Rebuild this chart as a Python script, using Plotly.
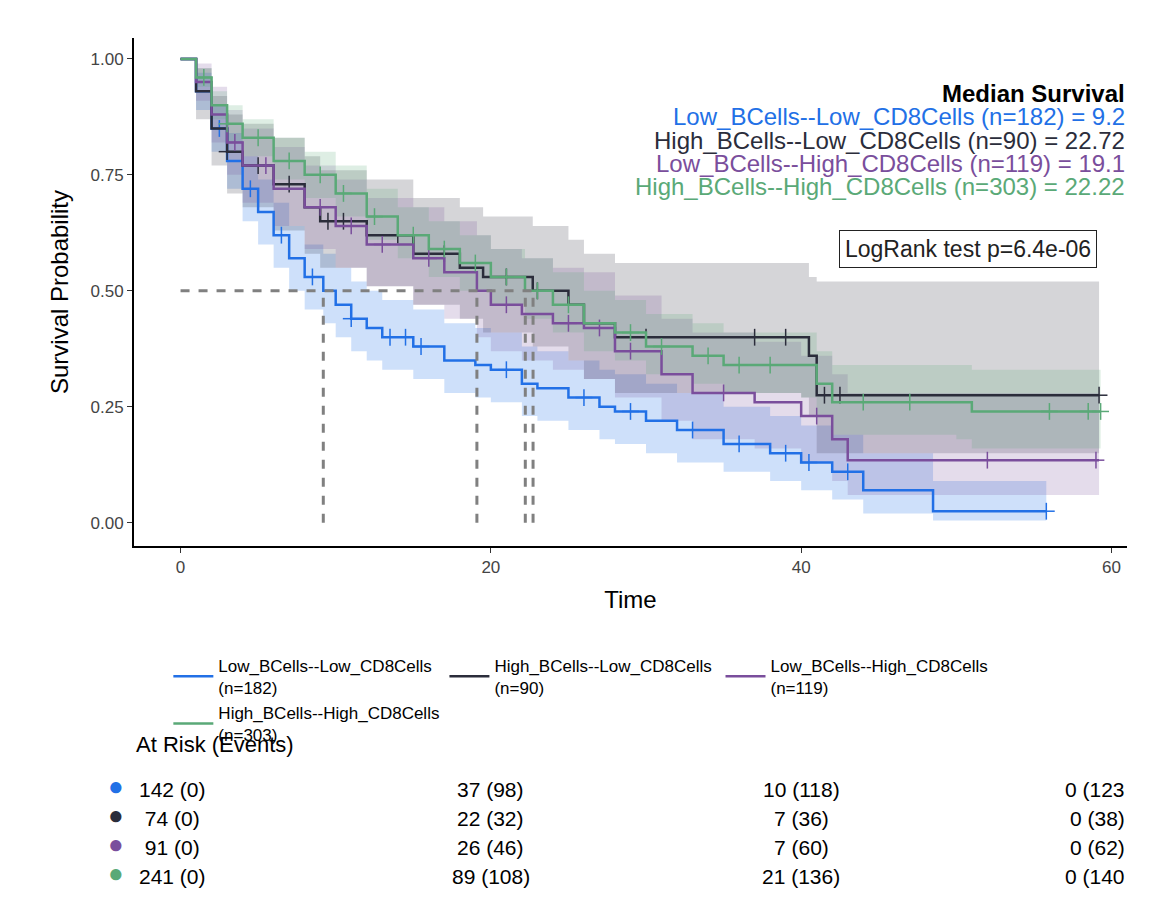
import plotly.graph_objects as go

groups = ["Low_BCells--Low_CD8Cells", "High_BCells--Low_CD8Cells",
          "Low_BCells--High_CD8Cells", "High_BCells--High_CD8Cells"]
n_sizes = [182, 90, 119, 303]
medians = [9.2, 22.72, 19.1, 22.22]
colors = ["#2270e6", "#2b2d3b", "#7a4e9c", "#5aa977"]
fills = ["rgba(34,112,230,0.22)", "rgba(43,45,59,0.2)", "rgba(122,78,156,0.2)", "rgba(90,169,119,0.2)"]

times = [
    [0, 1, 2, 3, 4, 5, 6, 7, 8, 9.2, 10, 11, 12, 13, 15, 17, 19, 20, 22, 23, 25, 27, 28, 30, 32, 35, 38, 40, 42, 44, 48.5, 55.8],
    [0, 1, 2, 3, 4, 6, 8, 9, 12, 15, 18, 19.5, 22.7, 25, 26, 28, 40, 40.5, 41, 59.2],
    [0, 1, 2, 3, 4, 6, 8, 10, 12, 15, 17, 19.1, 20, 22, 24, 26, 28, 31, 33, 37, 40, 42, 43, 59.2],
    [0, 1, 2, 3, 4, 6, 8, 10, 12, 14, 16, 18, 20, 22.2, 24, 26, 28, 30, 33, 35, 40, 41, 42, 50, 51, 59.3],
]
surv = [
    [1.0, 0.93, 0.85, 0.78, 0.72, 0.67, 0.62, 0.57, 0.53, 0.50, 0.47, 0.44, 0.42, 0.40, 0.38, 0.35, 0.34, 0.33, 0.30, 0.29, 0.27, 0.25, 0.24, 0.22, 0.20, 0.17, 0.15, 0.13, 0.11, 0.07, 0.025, 0.025],
    [1.0, 0.93, 0.85, 0.80, 0.77, 0.73, 0.68, 0.65, 0.62, 0.58, 0.55, 0.53, 0.50, 0.47, 0.43, 0.40, 0.40, 0.36, 0.275, 0.275],
    [1.0, 0.95, 0.88, 0.82, 0.77, 0.72, 0.68, 0.64, 0.60, 0.57, 0.54, 0.50, 0.47, 0.45, 0.43, 0.42, 0.37, 0.32, 0.28, 0.26, 0.23, 0.18, 0.135, 0.135],
    [1.0, 0.96, 0.90, 0.86, 0.83, 0.78, 0.75, 0.71, 0.66, 0.62, 0.59, 0.56, 0.53, 0.50, 0.47, 0.43, 0.41, 0.38, 0.36, 0.34, 0.34, 0.30, 0.26, 0.26, 0.24, 0.24],
]
lower = [
    [1.0, 0.89, 0.80, 0.72, 0.65, 0.60, 0.55, 0.50, 0.46, 0.43, 0.40, 0.37, 0.35, 0.33, 0.31, 0.28, 0.27, 0.26, 0.23, 0.22, 0.20, 0.18, 0.17, 0.15, 0.13, 0.11, 0.09, 0.07, 0.05, 0.02, 0.005, 0.005],
    [1.0, 0.87, 0.77, 0.71, 0.68, 0.63, 0.58, 0.55, 0.51, 0.47, 0.44, 0.41, 0.38, 0.35, 0.31, 0.28, 0.27, 0.23, 0.15, 0.15],
    [1.0, 0.91, 0.82, 0.75, 0.69, 0.64, 0.59, 0.55, 0.51, 0.47, 0.44, 0.40, 0.37, 0.35, 0.33, 0.31, 0.27, 0.22, 0.18, 0.16, 0.13, 0.09, 0.06, 0.06],
    [1.0, 0.94, 0.87, 0.82, 0.79, 0.74, 0.70, 0.66, 0.61, 0.57, 0.53, 0.50, 0.47, 0.44, 0.41, 0.37, 0.35, 0.32, 0.30, 0.28, 0.27, 0.23, 0.19, 0.18, 0.16, 0.16],
]
upper = [
    [1.0, 0.97, 0.90, 0.84, 0.79, 0.74, 0.69, 0.64, 0.60, 0.58, 0.55, 0.52, 0.50, 0.48, 0.46, 0.43, 0.42, 0.41, 0.38, 0.37, 0.35, 0.33, 0.32, 0.30, 0.28, 0.25, 0.23, 0.21, 0.19, 0.15, 0.09, 0.09],
    [1.0, 0.98, 0.92, 0.88, 0.86, 0.83, 0.79, 0.76, 0.74, 0.70, 0.68, 0.66, 0.64, 0.61, 0.58, 0.56, 0.56, 0.53, 0.52, 0.52],
    [1.0, 0.99, 0.94, 0.89, 0.85, 0.81, 0.77, 0.74, 0.70, 0.68, 0.65, 0.62, 0.59, 0.57, 0.55, 0.54, 0.49, 0.44, 0.41, 0.39, 0.36, 0.32, 0.28, 0.28],
    [1.0, 0.98, 0.93, 0.90, 0.87, 0.83, 0.80, 0.77, 0.72, 0.68, 0.65, 0.62, 0.59, 0.57, 0.54, 0.50, 0.48, 0.45, 0.43, 0.41, 0.41, 0.37, 0.34, 0.34, 0.33, 0.33],
]
censor = [
    [2.5, 4.5, 6.5, 8.5, 11, 13.5, 14.5, 15.5, 21, 26, 29, 33, 36, 39, 40.5, 43, 55.8],
    [3, 5, 7, 9.5, 10.5, 14, 17, 21, 23, 30, 37, 39, 41.5, 42.5, 59.2],
    [3.5, 5.5, 9, 11, 13, 16, 21, 25, 27, 29, 35, 41, 52, 59],
    [1.5, 3, 5, 7, 9, 10.5, 12.5, 15, 17, 19, 21, 23, 25, 29, 31, 34, 36, 38, 44, 47, 56, 58.5, 59.3],
]
risk_times = [0, 20, 40, 60]
risk_labels = [
    ["142 (0)", "37 (98)", "10 (118)", "0 (123"],
    [" 74 (0)", "22 (32)", "7 (36)", "0 (38)"],
    [" 91 (0)", "26 (46)", "7 (60)", "0 (62)"],
    ["241 (0)", "89 (108)", "21 (136)", "0 (140"],
]


def step_at(ts, ss, t):
    v = ss[0]
    for ti, si in zip(ts, ss):
        if ti <= t:
            v = si
    return v


fig = go.Figure()
for i, g in enumerate(groups):
    fig.add_trace(go.Scatter(x=times[i], y=upper[i], mode="lines", line=dict(width=0, shape="hv"),
                             showlegend=False, hoverinfo="skip"))
    fig.add_trace(go.Scatter(x=times[i], y=lower[i], mode="lines", line=dict(width=0, shape="hv"),
                             fill="tonexty", fillcolor=fills[i], showlegend=False, hoverinfo="skip"))
for i, g in enumerate(groups):
    fig.add_trace(go.Scatter(x=times[i], y=surv[i], mode="lines", line=dict(color=colors[i], width=2.5, shape="hv"),
                             name=f"{g}<br>(n={n_sizes[i]})"))
    ys = [step_at(times[i], surv[i], t) for t in censor[i]]
    for sym in ["line-ns", "line-ew"]:
        fig.add_trace(go.Scatter(x=censor[i], y=ys, mode="markers",
                                 marker=dict(symbol=sym, size=12, line=dict(color=colors[i], width=1.5)),
                                 showlegend=False, hoverinfo="skip"))

dash = dict(color="grey", width=3, dash="dash")
fig.add_shape(type="line", x0=0, x1=max(medians), y0=0.5, y1=0.5, line=dash)
for m in medians:
    fig.add_shape(type="line", x0=m, x1=m, y0=0, y1=0.5, line=dash)

ann = [dict(text="<b>Median Survival</b>", y=0.89, color="black")]
for i, g in enumerate(groups):
    ann.append(dict(text=f"{g} (n={n_sizes[i]}) = {medians[i]}", y=0.845 - 0.046 * i, color=colors[i]))
for a in ann:
    fig.add_annotation(text=a["text"], x=1.0, y=a["y"], xref="paper", yref="paper", xanchor="right",
                       yanchor="middle", showarrow=False, font=dict(size=24, color=a["color"]))
fig.add_annotation(text="LogRank test p=6.4e-06", x=0.97, y=0.585, xref="paper", yref="paper", xanchor="right",
                   showarrow=False, font=dict(size=23, color="#222"), bordercolor="#222", borderwidth=1,
                   borderpad=5, bgcolor="white")

# risk table
fig.add_annotation(text="At Risk (Events)", x=0.0, y=-0.42, xref="paper", yref="paper", xanchor="left",
                   showarrow=False, font=dict(size=22, color="black"))
for r, row in enumerate(risk_labels):
    yy = -0.506 - 0.057 * r
    fig.add_annotation(text="●", x=-0.028, y=yy, xref="paper", yref="paper", showarrow=False,
                       font=dict(size=26, color=colors[r]))
    for c, lab in enumerate(row):
        if c == 0:
            fig.add_annotation(text=lab, x=0.003, y=yy, xref="paper", yref="paper", xanchor="left",
                               showarrow=False, font=dict(size=21, color="black"))
        elif c == 3:
            fig.add_annotation(text=lab, x=1.0, y=yy, xref="paper", yref="paper", xanchor="right",
                               showarrow=False, font=dict(size=21, color="black"))
        else:
            fig.add_annotation(text=lab, x=risk_times[c], y=yy, xref="x", yref="paper", xanchor="center",
                               showarrow=False, font=dict(size=21, color="black"))

fig.update_layout(
    width=1152, height=921, plot_bgcolor="white", paper_bgcolor="white",
    margin=dict(l=126, r=33, t=30, b=383),
    font=dict(family="Liberation Sans", color="black"),
    xaxis=dict(title=dict(text="Time", font=dict(size=24)), range=[-3, 61], tickvals=[0, 20, 40, 60],
               showline=True, linecolor="black", linewidth=2, ticks="outside", tickcolor="#333",
               tickfont=dict(size=17, color="#444"), showgrid=False, zeroline=False),
    yaxis=dict(title=dict(text="Survival Probability", font=dict(size=24)), range=[-0.05, 1.045],
               tickvals=[0, 0.25, 0.5, 0.75, 1.0], ticktext=["0.00", "0.25", "0.50", "0.75", "1.00"],
               showline=True, linecolor="black", linewidth=2, ticks="outside", tickcolor="#333",
               tickfont=dict(size=17, color="#444"), showgrid=False, zeroline=False),
    legend=dict(orientation="h", x=0.45, xanchor="center", y=-0.2, yanchor="top",
                traceorder="normal", font=dict(size=17), itemwidth=40),
)
fig.write_html("out.html")
